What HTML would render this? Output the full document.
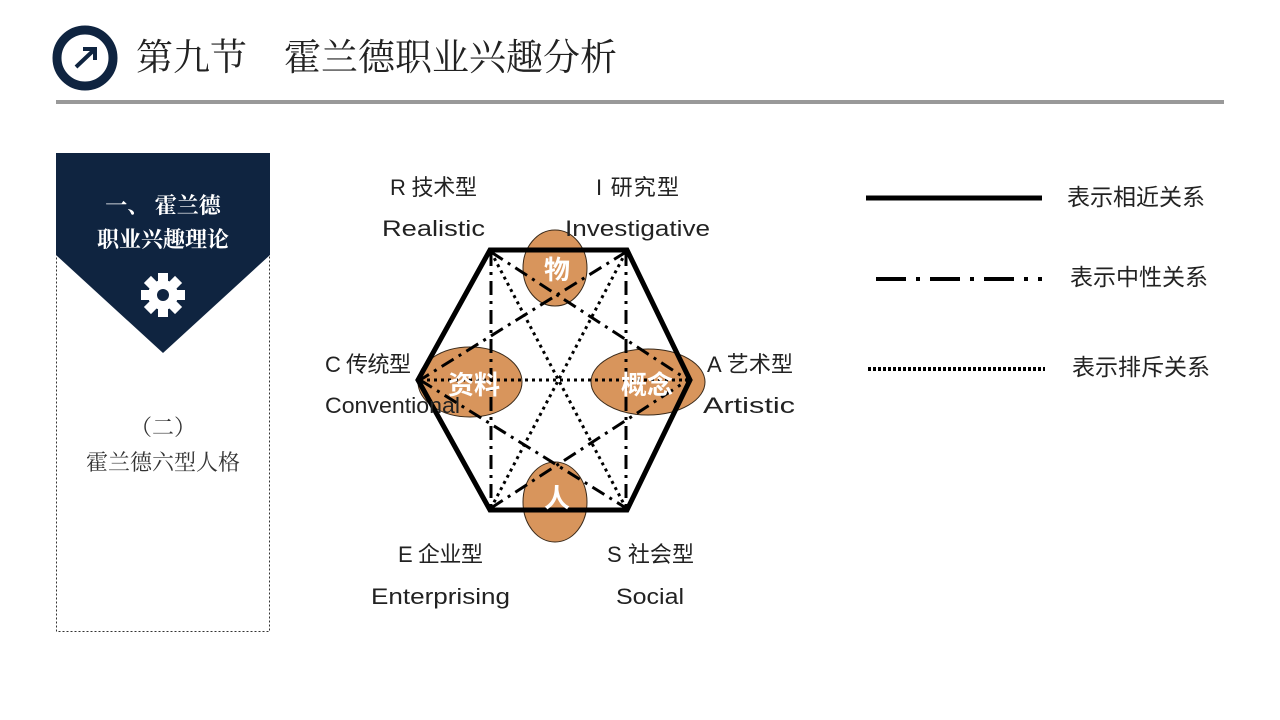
<!DOCTYPE html>
<html><head><meta charset="utf-8"><style>
body{margin:0;width:1280px;height:720px;background:#fff;overflow:hidden;font-family:"Liberation Sans","Noto Sans CJK SC",sans-serif}
</style></head><body>
<svg width="1280" height="720" viewBox="0 0 1280 720" xmlns="http://www.w3.org/2000/svg" style="position:absolute;left:0;top:0">
<!-- header -->
<circle cx="85" cy="58" r="28" fill="none" stroke="#0f2440" stroke-width="9"/>
<path d="M76 67 L95 49 M83 49 L95 49 L95 60" fill="none" stroke="#0f2440" stroke-width="4"/>
<text x="136" y="70" font-size="37" fill="#222" font-family="Noto Serif CJK SC, serif">第九节　霍兰德职业兴趣分析</text>
<rect x="56" y="100" width="1168" height="4" fill="#999"/>
<!-- left panel -->
<rect x="56.5" y="153.5" width="213" height="478" fill="none" stroke="#333" stroke-dasharray="2,2"/>
<path d="M56 153 H270 V255 L163 353 L56 255 Z" fill="#0f2440"/>
<text x="163" y="213" font-size="22" fill="#fff" text-anchor="middle" font-family="Noto Serif CJK SC, serif" font-weight="bold">一、 霍兰德</text>
<text x="163" y="247" font-size="22" fill="#fff" text-anchor="middle" font-family="Noto Serif CJK SC, serif" font-weight="bold">职业兴趣理论</text>
<g transform="translate(163,295)" fill="#fff">
<circle r="15"/>
<g><rect x="-5" y="-22" width="10" height="10"/><rect x="-5" y="12" width="10" height="10"/><rect x="-22" y="-5" width="10" height="10"/><rect x="12" y="-5" width="10" height="10"/></g>
<g transform="rotate(45)"><rect x="-5" y="-22" width="10" height="10"/><rect x="-5" y="12" width="10" height="10"/><rect x="-22" y="-5" width="10" height="10"/><rect x="12" y="-5" width="10" height="10"/></g>
<circle r="6" fill="#0f2440"/>
</g>
<text x="163" y="435" font-size="22" fill="#333" text-anchor="middle" font-family="Noto Serif CJK SC, serif">（二）</text>
<text x="163" y="470" font-size="22" fill="#333" text-anchor="middle" font-family="Noto Serif CJK SC, serif">霍兰德六型人格</text>
<!-- ellipses -->
<g fill="#d8955c" stroke="#3a2a1a" stroke-width="1">
<ellipse cx="555" cy="268" rx="32" ry="38"/>
<ellipse cx="470" cy="382" rx="52" ry="35"/>
<ellipse cx="648" cy="382" rx="57" ry="33"/>
<ellipse cx="555" cy="502" rx="32" ry="40"/>
</g>
<!-- lines -->
<g fill="none" stroke="#000">
<g stroke-width="3" stroke-dasharray="14,6,3,6">
<line x1="491" y1="252" x2="491" y2="508"/><line x1="626" y1="252" x2="626" y2="508"/>
<line x1="491" y1="252" x2="688" y2="380"/><line x1="626" y1="252" x2="420" y2="380"/>
<line x1="420" y1="380" x2="626" y2="508"/><line x1="491" y1="508" x2="688" y2="380"/>
</g>
<g stroke-width="3" stroke-dasharray="3,4">
<line x1="491" y1="252" x2="626" y2="508"/><line x1="626" y1="252" x2="491" y2="508"/><line x1="420" y1="380" x2="688" y2="380"/>
</g>
<path d="M490 250 L627 250 L690 380 L627 510 L490 510 L418 380 Z" stroke-width="5" stroke-linejoin="miter"/>
</g>
<g font-size="26" fill="#fff" text-anchor="middle" font-family="Noto Sans CJK SC, sans-serif" font-weight="bold">
<text x="557" y="279">物</text><text x="474" y="394">资料</text><text x="647" y="394">概念</text><text x="557" y="507">人</text>
</g>
<!-- labels -->
<g font-size="22" fill="#222" font-family="Liberation Sans, Noto Sans CJK SC, sans-serif">
<text x="390" y="195" textLength="87">R 技术型</text><text x="382" y="236" textLength="103" lengthAdjust="spacingAndGlyphs">Realistic</text>
<text x="596" y="195" textLength="83">I 研究型</text><text x="565" y="236" textLength="145" lengthAdjust="spacingAndGlyphs">Investigative</text>
<text x="325" y="372" textLength="86">C 传统型</text><text x="325" y="413" textLength="135" lengthAdjust="spacingAndGlyphs">Conventional</text>
<text x="707" y="372" textLength="86">A 艺术型</text><text x="703" y="413" textLength="92" lengthAdjust="spacingAndGlyphs">Artistic</text>
<text x="398" y="562" textLength="85">E 企业型</text><text x="371" y="604" textLength="139" lengthAdjust="spacingAndGlyphs">Enterprising</text>
<text x="607" y="562" textLength="87">S 社会型</text><text x="616" y="604" textLength="68" lengthAdjust="spacingAndGlyphs">Social</text>
</g>
<!-- legend -->
<line x1="866" y1="198" x2="1042" y2="198" stroke="#000" stroke-width="5"/>
<line x1="876" y1="279" x2="1042" y2="279" stroke="#000" stroke-width="4" stroke-dasharray="30,10,4,10"/>
<line x1="868" y1="369" x2="1045" y2="369" stroke="#000" stroke-width="4" stroke-dasharray="3,2"/>
<g font-size="23" fill="#222" font-family="Noto Sans CJK SC, sans-serif">
<text x="1067" y="205">表示相近关系</text><text x="1070" y="285">表示中性关系</text><text x="1072" y="375">表示排斥关系</text>
</g>
</svg>
</body></html>
